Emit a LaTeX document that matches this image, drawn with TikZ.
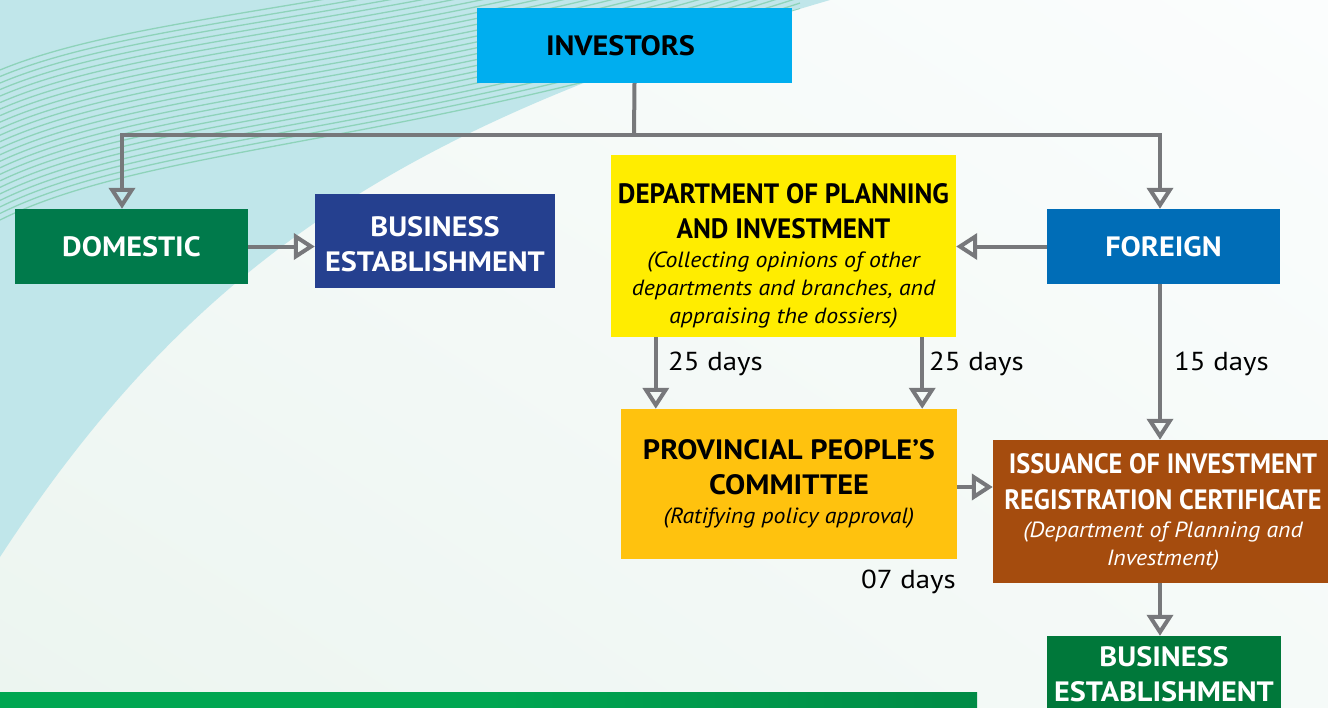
\documentclass[tikz,border=0pt]{standalone}
\usepackage{fontspec}
\setmainfont{PT Sans}
\newfontfamily\cbfA[FakeStretch=1.08]{PT Sans}
\newfontfamily\cbfB[FakeStretch=0.97]{PT Sans}
\newfontfamily\cbfC[FakeStretch=0.94]{PT Sans}
\newfontfamily\citA[FakeStretch=1.08]{PT Sans}
\newfontfamily\crgA[FakeStretch=1.11]{PT Sans}
\usetikzlibrary{arrows.meta,shadings}
\definecolor{cyanbg}{RGB}{192,230,234}
\definecolor{stripe}{RGB}{142,211,186}
\definecolor{bgA}{RGB}{236,245,240}
\definecolor{bgB}{RGB}{251,253,253}
\definecolor{bargreen}{RGB}{0,166,81}
\definecolor{bardark}{RGB}{0,112,58}
\definecolor{cinv}{RGB}{0,174,239}
\definecolor{cdom}{RGB}{0,122,75}
\definecolor{cbeone}{RGB}{37,64,143}
\definecolor{cdpi}{RGB}{255,237,0}
\definecolor{cfor}{RGB}{0,109,183}
\definecolor{cppc}{RGB}{255,194,14}
\definecolor{ciss}{RGB}{165,76,14}
\definecolor{cbetwo}{RGB}{0,120,58}
\definecolor{conncol}{RGB}{119,120,123}
\pgfdeclarehorizontalshading{barshade}{100bp}{color(0bp)=(bargreen); color(50bp)=(bargreen); color(100bp)=(bardark)}
\newcommand\ttlA{\cbfA\bfseries\fontsize{28}{35}\selectfont}
\newcommand\ttlB{\cbfB\bfseries\fontsize{28}{35}\selectfont}
\newcommand\ttlC{\cbfC\bfseries\fontsize{28}{36}\selectfont}
\newcommand\mysubt{\citA\mdseries\itshape\fontsize{22}{28}\selectfont}
\newcommand\mydays{\crgA\fontsize{26}{30}\selectfont}
\tikzset{
  box/.style={rectangle, inner sep=0pt, align=center},
  conn/.style={draw=conncol, line width=4pt},
  arr/.style={conn, -{Triangle[open, length=21pt, width=26pt, line width=4pt]}},
  dayslabel/.style={inner sep=0pt, text=black, font=\mydays}
}
\begin{document}
\begin{tikzpicture}[x=1pt,y=-1pt]
\useasboundingbox (0,0) rectangle (1328,707);
% background
\shade[lower left=bgA, upper right=bgB, upper left=bgB!50!bgA, lower right=bgB!60!bgA] (0,0) rectangle (1328,707);
\fill[cyanbg] (0,0) -- (830,0) .. controls (420,120) and (200,250) .. (0,557) -- cycle;
\begin{scope}
  \clip (0,0) -- (830,0) .. controls (420,120) and (200,250) .. (0,557) -- cycle;
  \foreach \i in {0,...,23}{
    \pgfmathsetmacro\s{\i/23}
    \pgfmathsetmacro\ya{70+150*\s}
    \pgfmathsetmacro\yb{8+137*\s}
    \pgfmathsetmacro\yc{8+137*\s}
    \pgfmathsetmacro\yd{-110+130*\s}
    \draw[stripe, line width=1.3pt] (0,\ya) .. controls (150,\yb) and (420,\yc) .. (800,\yd);
  }
\end{scope}
% bottom bar
\shade[shading=barshade] (0,692) rectangle (977,707);

% boxes
\node[box, fill=cinv, font=\ttlA, minimum width=315pt, minimum height=75pt] (inv) at (634.5,45.5) {INVESTORS\hspace*{28pt}};
\node[box, fill=cdom, text=white, font=\ttlA, minimum width=233pt, minimum height=75pt] (dom) at (131.5,246.5) {DOMESTIC};
\node[box, fill=cbeone, text=white, font=\ttlA, minimum width=240pt, minimum height=94pt] (beone) at (435,241) {\rule{0pt}{25.6pt}BUSINESS\\ESTABLISHMENT};
\node[box, fill=cdpi, font=\ttlB, minimum width=345pt, minimum height=182pt] (dpi) at (783.5,246) {\rule{0pt}{40.6pt}DEPARTMENT OF PLANNING\\AND INVESTMENT\\[-6pt]\mysubt (Collecting opinions of other\\[-7pt]\mysubt departments and branches, and\\[-7pt]\mysubt appraising the dossiers)};
\node[box, fill=cfor, text=white, font=\ttlA, minimum width=233pt, minimum height=75pt] (for) at (1163.5,246.5) {FOREIGN};
\node[box, fill=cppc, font=\ttlA, minimum width=336pt, minimum height=150pt] (ppc) at (789,484) {PROVINCIAL PEOPLE’S\\COMMITTEE\\[-6pt]\mysubt (Ratifying policy approval)};
\node[box, fill=ciss, text=white, font=\ttlC, minimum width=340pt, minimum height=143pt] (iss) at (1163,511.5) {ISSUANCE OF INVESTMENT\\REGISTRATION CERTIFICATE\\[-8pt]\mysubt (Department of Planning and\\[-8pt]\mysubt Investment)};
\node[box, fill=cbetwo, text=white, font=\ttlA, minimum width=234pt, minimum height=76pt] (betwo) at (1164,674) {BUSINESS\\ESTABLISHMENT};

% connectors
\coordinate (jn) at (634,135);
\draw[conn] (inv.south) -- (jn);
\draw[arr] (jn) -| ([xshift=-9.5pt]dom.north);
\draw[arr] (jn) -| ([xshift=-3.5pt]for.north);
\draw[arr] (dom.east) -- (dom.east -| beone.west);
\draw[arr] (for.west) -- (for.west -| dpi.east);
\draw[arr] ([xshift=45pt]dpi.south west) -- ([xshift=35pt]ppc.north west);
\draw[arr] ([xshift=-34pt]dpi.south east) -- ([xshift=-35pt]ppc.north east);
\draw[arr] ([xshift=-3.5pt]for.south) -- ([xshift=-3pt]iss.north);
\coordinate (pr) at ([yshift=-3pt]ppc.east);
\draw[arr] (pr) -- (pr -| iss.west);
\draw[arr] ([xshift=-3pt]iss.south) -- ([xshift=-4pt]betwo.north);

% labels
\node[dayslabel, anchor=west] (dA) at (668,364) {25 days};
\node[dayslabel, anchor=west] (dB) at (929,364) {25 days};
\node[dayslabel, anchor=west] (dC) at (1174,364) {15 days};
\node[dayslabel, anchor=east] (dD) at (956,582) {07 days};
\end{tikzpicture}
\end{document}
